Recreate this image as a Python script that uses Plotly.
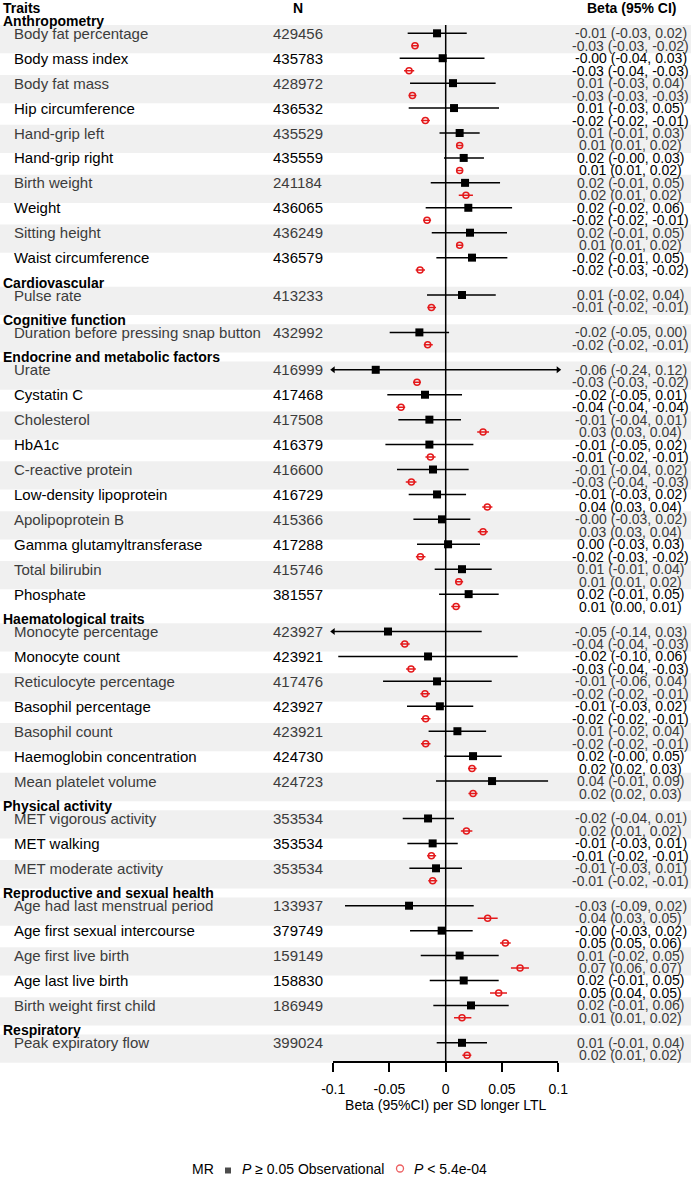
import plotly.graph_objects as go

# ---------------- data ----------------
categories = ["Anthropometry", "Cardiovascular", "Cognitive function",
              "Endocrine and metabolic factors", "Haematological traits",
              "Physical activity", "Reproductive and sexual health", "Respiratory"]

traits = ["Body fat percentage", "Body mass index", "Body fat mass", "Hip circumference",
          "Hand-grip left", "Hand-grip right", "Birth weight", "Weight", "Sitting height",
          "Waist circumference",
          "Pulse rate",
          "Duration before pressing snap button",
          "Urate", "Cystatin C", "Cholesterol", "HbA1c", "C-reactive protein",
          "Low-density lipoprotein", "Apolipoprotein B", "Gamma glutamyltransferase",
          "Total bilirubin", "Phosphate",
          "Monocyte percentage", "Monocyte count", "Reticulocyte percentage",
          "Basophil percentage", "Basophil count", "Haemoglobin concentration",
          "Mean platelet volume",
          "MET vigorous activity", "MET walking", "MET moderate activity",
          "Age had last menstrual period", "Age first sexual intercourse",
          "Age first live birth", "Age last live birth", "Birth weight first child",
          "Peak expiratory flow"]

trait_category = (["Anthropometry"] * 10 + ["Cardiovascular"] + ["Cognitive function"]
                  + ["Endocrine and metabolic factors"] * 10 + ["Haematological traits"] * 7
                  + ["Physical activity"] * 3 + ["Reproductive and sexual health"] * 5
                  + ["Respiratory"])

n_values = [429456, 435783, 428972, 436532, 435529, 435559, 241184, 436065, 436249, 436579,
            413233,
            432992,
            416999, 417468, 417508, 416379, 416600, 416729, 415366, 417288, 415746, 381557,
            423927, 423921, 417476, 423927, 423921, 424730, 424723,
            353534, 353534, 353534,
            133937, 379749, 159149, 158830, 186949,
            399024]

mr_beta = [-0.0077, -0.0027, 0.0065, 0.0074, 0.0124, 0.0160, 0.0172, 0.0201, 0.0216, 0.0234,
           0.0145,
           -0.0234,
           -0.0622, -0.0184, -0.0145, -0.0145, -0.0113, -0.0077, -0.0033, 0.0021, 0.0145, 0.0204,
           -0.0513, -0.0157, -0.0077, -0.0052, 0.0104, 0.0243, 0.0412,
           -0.0157, -0.0116, -0.0086,
           -0.0326, -0.0036, 0.0124, 0.0160, 0.0225,
           0.0145]
mr_lo = [-0.0338, -0.0409, -0.0317, -0.0329, -0.0055, -0.0015, -0.0133, -0.0178, -0.0124, -0.0083,
         -0.0166,
         -0.0498,
         -0.24, -0.0519, -0.0421, -0.0536, -0.0433, -0.0329, -0.0287, -0.0255, -0.0098, -0.0059,
         -0.14, -0.0955, -0.0557, -0.0344, -0.0152, -0.0012, -0.0086,
         -0.0382, -0.0341, -0.0323,
         -0.0895, -0.0317, -0.0222, -0.0142, -0.0110,
         -0.0080]
mr_hi = [0.0187, 0.0345, 0.0444, 0.0474, 0.0302, 0.0340, 0.0483, 0.0590, 0.0545, 0.0548,
         0.0445,
         0.0030,
         0.12, 0.0145, 0.0136, 0.0246, 0.0204, 0.0181, 0.0219, 0.0305, 0.0409, 0.0471,
         0.0320, 0.0640, 0.0409, 0.0245, 0.0359, 0.0498, 0.0910,
         0.0074, 0.0107, 0.0145,
         0.0249, 0.0240, 0.0471, 0.0471, 0.0560,
         0.0367]

obs_beta = [-0.0273, -0.0326, -0.0296, -0.0181, 0.0124, 0.0124, 0.0180, -0.0166, 0.0124, -0.0228,
            -0.0127,
            -0.0160,
            -0.0255, -0.0397, 0.0332, -0.0136, -0.0305, 0.0370, 0.0332, -0.0225, 0.0116, 0.0092,
            -0.0364, -0.0308, -0.0184, -0.0178, -0.0178, 0.0234, 0.0243,
            0.0184, -0.0127, -0.0116,
            0.0373, 0.0530, 0.0661, 0.0471, 0.0145,
            0.0190]
obs_lo = [-0.0305, -0.0370, -0.0330, -0.0220, 0.0095, 0.0095, 0.0116, -0.0200, 0.0095, -0.0267,
          -0.0163,
          -0.0195,
          -0.0290, -0.0440, 0.0280, -0.0180, -0.0355, 0.0325, 0.0285, -0.0265, 0.0085, 0.0049,
          -0.0405, -0.0352, -0.0225, -0.0220, -0.0220, 0.0198, 0.0202,
          0.0135, -0.0165, -0.0155,
          0.0284, 0.0483, 0.0580, 0.0394, 0.0074,
          0.0148]
obs_hi = [-0.0240, -0.0280, -0.0260, -0.0140, 0.0155, 0.0155, 0.0242, -0.0130, 0.0155, -0.0184,
          -0.0086,
          -0.0115,
          -0.0220, -0.0360, 0.0385, -0.0090, -0.0260, 0.0415, 0.0375, -0.0180, 0.0155, 0.0130,
          -0.0320, -0.0265, -0.0140, -0.0135, -0.0135, 0.0275, 0.0283,
          0.0237, -0.0085, -0.0075,
          0.0462, 0.0578, 0.0740, 0.0545, 0.0228,
          0.0228]

x_tickvals = [-0.1, -0.05, 0, 0.05, 0.1]
x_ticktext = ["-0.1", "-0.05", "0", "0.05", "0.1"]
x_title = "Beta (95%CI) per SD longer LTL"
legend_title = "MR"
legend_labels = ["<i>P</i> ≥ 0.05 Observational", "<i>P</i> &lt; 5.4e-04"]

# ---------------- layout geometry ----------------
W, H = 691, 1177
LINE0_PX, LINE_PX = 8.37, 12.463
X0_PX, PX_PER_UNIT = 445.7, 1125.0
AXIS_PX = 1062.0
XMIN, XMAX = -0.1, 0.1
FONT = "Liberation Sans, Arial, Helvetica, sans-serif"
BAND = "#f0f0f0"
RED = "#e41a1c"
LEG_Y_PX = 1169.0
LEG_TITLE_RIGHT_PX = 216.0
LEG_SYMBOL_PX = [228.0, 400.0]
LEG_TEXT_PX = [240.0, 412.0]

def px_x(px):
    return px / W

def px_y(px):
    return 1 - px / H

# assign text lines
header_lines = {}
mr_line, obs_line, band_idx = [], [], []
line = 1
prev_cat = None
k = 0
for cat in trait_category:
    if cat != prev_cat:
        header_lines[cat] = line
        line += 1
        k = 0
        prev_cat = cat
    mr_line.append(line)
    obs_line.append(line + 1)
    band_idx.append(k)
    k += 1
    line += 2

y_top = -LINE0_PX / LINE_PX
y_bot = (H - LINE0_PX) / LINE_PX
axis_line = (AXIS_PX - LINE0_PX) / LINE_PX

fig = go.Figure()

# CI lines (clipped to axis range, arrows where clipped)
def ci_xy(lo, hi, ys):
    xs, yy = [], []
    for a, b, y in zip(lo, hi, ys):
        xs += [max(a, XMIN), min(b, XMAX), None]
        yy += [y, y, None]
    return xs, yy

mx, my = ci_xy(mr_lo, mr_hi, mr_line)
fig.add_trace(go.Scatter(x=mx, y=my, mode="lines", line=dict(color="black", width=1.5),
                         showlegend=False, hoverinfo="skip"))
ox, oy = ci_xy(obs_lo, obs_hi, obs_line)
fig.add_trace(go.Scatter(x=ox, y=oy, mode="lines", line=dict(color=RED, width=1.5),
                         showlegend=False, hoverinfo="skip"))

arr_x, arr_y, arr_s = [], [], []
for a, b, y in zip(mr_lo, mr_hi, mr_line):
    if a < XMIN:
        arr_x.append(XMIN); arr_y.append(y); arr_s.append("triangle-left")
    if b > XMAX:
        arr_x.append(XMAX); arr_y.append(y); arr_s.append("triangle-right")
fig.add_trace(go.Scatter(x=arr_x, y=arr_y, mode="markers",
                         marker=dict(symbol=arr_s, size=6, color="black"),
                         showlegend=False, hoverinfo="skip", cliponaxis=False))

fig.add_trace(go.Scatter(x=mr_beta, y=mr_line, mode="markers", name="MR",
                         marker=dict(symbol="square", size=8, color="black"),
                         showlegend=False, cliponaxis=False))
fig.add_trace(go.Scatter(x=obs_beta, y=obs_line, mode="markers", name="Observational",
                         marker=dict(symbol="circle-open", size=6, color=RED,
                                     line=dict(width=1.5, color=RED)),
                         showlegend=False, cliponaxis=False))

# legend key symbols on a pixel overlay axis
fig.add_trace(go.Scatter(x=LEG_SYMBOL_PX, y=[LEG_Y_PX + 1.5, LEG_Y_PX - 0.5], mode="markers",
                         xaxis="x2", yaxis="y2", showlegend=False, hoverinfo="skip",
                         cliponaxis=False,
                         marker=dict(symbol=["square", "circle-open"], size=[6, 7],
                                     color=["black", RED],
                                     line=dict(width=[0, 1.3], color=["black", RED]))))

shapes = []
for i, (m, o) in enumerate(zip(mr_line, obs_line)):
    if band_idx[i] % 2 == 0:
        shapes.append(dict(type="rect", xref="paper", yref="y", x0=0, x1=1,
                           y0=m - 0.66, y1=o + 0.61, fillcolor=BAND, line_width=0,
                           layer="below"))
shapes.append(dict(type="line", xref="x", yref="y", x0=0, x1=0,
                   y0=mr_line[0] - 0.66, y1=axis_line, line=dict(color="black", width=1.5)))

ann = []
def add_text(text, xpx, y, anchor, size, bold=False, color="black", yref="y"):
    ann.append(dict(text=("<b>%s</b>" % text) if bold else text, xref="paper", yref=yref,
                    x=px_x(xpx), y=y, xanchor=anchor, yanchor="middle", showarrow=False,
                    font=dict(family=FONT, size=size, color=color)))

add_text("Traits", 1, 0, "left", 14, bold=True)
add_text("N", 297.5, 0, "center", 14, bold=True)
add_text("Beta (95% CI)", 631, 0, "center", 14, bold=True)
for cat in categories:
    add_text(cat, 1, header_lines[cat], "left", 14, bold=True)

def fmt(b, lo, hi):
    return "%.2f (%.2f, %.2f)" % (b, lo, hi)

for i, t in enumerate(traits):
    col = "#3c3c3c" if band_idx[i] % 2 == 0 else "black"
    add_text(t, 12, mr_line[i], "left", 15, color=col)
    add_text(str(n_values[i]), 297.5, mr_line[i], "center", 15, color=col)
    add_text(fmt(mr_beta[i], mr_lo[i], mr_hi[i]), 630.5, mr_line[i], "center", 14, color=col)
    add_text(fmt(obs_beta[i], obs_lo[i], obs_hi[i]), 630.5, obs_line[i], "center", 14, color=col)

# legend texts
add_text(legend_title, LEG_TITLE_RIGHT_PX, px_y(LEG_Y_PX), "right", 14, yref="paper")
for lab, xp in zip(legend_labels, LEG_TEXT_PX):
    add_text(lab, xp, px_y(LEG_Y_PX), "left", 14, yref="paper")

fig.update_layout(
    width=W, height=H, margin=dict(l=0, r=0, t=0, b=0, autoexpand=False),
    paper_bgcolor="white", plot_bgcolor="rgba(0,0,0,0)",
    font=dict(family=FONT, size=14, color="black"),
    shapes=shapes, annotations=ann, showlegend=False,
    xaxis=dict(domain=[px_x(X0_PX + XMIN * PX_PER_UNIT), px_x(X0_PX + XMAX * PX_PER_UNIT)],
               range=[XMIN, XMAX], anchor="free", position=1 - AXIS_PX / H,
               showline=True, linecolor="black", linewidth=1.5, showgrid=False,
               zeroline=False, ticks="outside", ticklen=9, tickwidth=1.5, tickcolor="black",
               tickvals=x_tickvals, ticktext=x_ticktext, ticklabelstandoff=5,
               tickfont=dict(size=14, color="black"),
               title=dict(text=x_title, font=dict(size=14, color="black"), standoff=4)),
    yaxis=dict(domain=[0, 1], range=[y_bot, y_top], visible=False, showgrid=False,
               zeroline=False),
    xaxis2=dict(domain=[0, 1], range=[0, W], visible=False, anchor="y2"),
    yaxis2=dict(domain=[0, 1], range=[H, 0], visible=False, anchor="x2"),
)

fig.write_html("out.html", config={"displayModeBar": False},
               post_script="document.body.style.margin='0';")
